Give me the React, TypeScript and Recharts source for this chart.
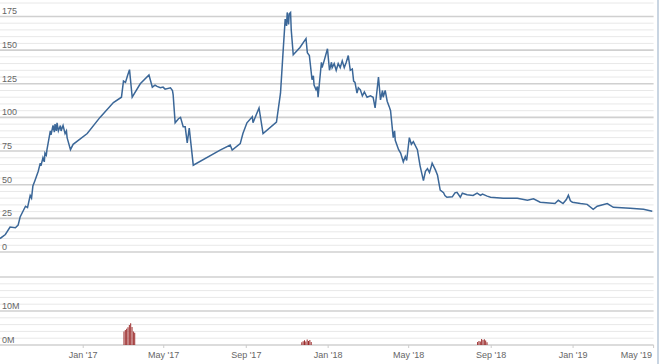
import React from 'react';
import { LineChart, Line, BarChart, Bar, XAxis, YAxis, CartesianGrid } from 'recharts';

const priceDates = [
  '2016-08-30','2016-09-07','2016-09-14','2016-09-22','2016-09-26','2016-09-29','2016-10-07','2016-10-10','2016-10-14','2016-10-16','2016-10-18','2016-10-21','2016-10-26','2016-10-29','2016-10-30',
  '2016-11-02','2016-11-04','2016-11-05','2016-11-07','2016-11-08','2016-11-13','2016-11-14','2016-11-17','2016-11-19','2016-11-20','2016-11-22','2016-11-23','2016-11-25','2016-11-28','2016-11-29',
  '2016-12-02','2016-12-05','2016-12-07','2016-12-08','2016-12-13','2016-12-17',
  '2017-01-07','2017-01-26','2017-02-15','2017-02-27','2017-03-02','2017-03-05','2017-03-08','2017-03-11','2017-03-15','2017-03-27','2017-04-09','2017-04-14','2017-04-18','2017-04-21','2017-04-26','2017-04-30',
  '2017-05-03','2017-05-11','2017-05-14','2017-05-15','2017-05-18','2017-05-23','2017-05-26','2017-05-30','2017-06-02','2017-06-05','2017-06-08','2017-06-14',
  '2017-07-24','2017-08-08','2017-08-11','2017-08-23','2017-08-27','2017-09-02','2017-09-10','2017-09-11','2017-09-20','2017-09-26','2017-10-16','2017-10-22','2017-10-26','2017-10-29','2017-10-31',
  '2017-11-01','2017-11-03','2017-11-04','2017-11-06','2017-11-07','2017-11-10','2017-11-20','2017-11-29','2017-12-01','2017-12-04','2017-12-08','2017-12-10','2017-12-11','2017-12-14','2017-12-16','2017-12-17','2017-12-22','2017-12-23','2017-12-26','2017-12-31',
  '2018-01-03','2018-01-06','2018-01-07','2018-01-10','2018-01-13','2018-01-16','2018-01-19','2018-01-22','2018-01-25','2018-01-28','2018-01-31',
  '2018-02-03','2018-02-06','2018-02-08','2018-02-10','2018-02-13','2018-02-15','2018-02-18','2018-02-21','2018-02-24','2018-02-28',
  '2018-03-05','2018-03-09','2018-03-12','2018-03-17','2018-03-20','2018-03-23','2018-03-24','2018-03-27','2018-03-30',
  '2018-04-02','2018-04-04','2018-04-08','2018-04-10','2018-04-11','2018-04-16','2018-04-19','2018-04-23','2018-04-26','2018-04-28',
  '2018-05-02','2018-05-05','2018-05-08','2018-05-14','2018-05-18','2018-05-23','2018-05-26','2018-05-29',
  '2018-06-01','2018-06-04','2018-06-05','2018-06-10','2018-06-13','2018-06-17','2018-06-22','2018-06-24','2018-06-27',
  '2018-07-05','2018-07-09','2018-07-12','2018-07-17','2018-07-20','2018-07-27',
  '2018-08-05','2018-08-11','2018-08-16','2018-08-19','2018-08-26','2018-08-31',
  '2018-09-19','2018-10-10','2018-10-25','2018-11-03','2018-11-13',
  '2018-12-05','2018-12-10','2018-12-17','2018-12-22','2018-12-25','2018-12-28','2018-12-31',
  '2019-01-12','2019-01-22','2019-01-31','2019-02-06','2019-02-21','2019-03-02','2019-03-27','2019-04-16','2019-04-29',
];

const priceValues = [
  10, 13, 18.5, 18, 20, 26, 34, 33, 42, 40, 49, 53, 60, 66, 64,
  70, 67, 73.5, 72, 76, 90, 87, 94, 89, 95, 90, 96, 90, 94, 90,
  94, 88, 90, 85, 76, 80,
  88, 100, 111, 115, 127, 126, 131, 135.5, 115, 125, 131.5, 122.5, 124, 123, 122, 122.5,
  121, 122, 120, 117, 96, 99, 100, 93, 93, 81, 92, 64.5,
  75.7, 79.5, 75.7, 80.5, 88, 96, 100.5, 96, 107, 88, 96.5, 118, 150, 173, 168,
  178, 169, 177, 178, 165, 146.5, 152, 158.5, 148, 146, 128, 131, 124, 120.5, 123, 115, 141, 137, 142, 151,
  135, 141, 137, 140, 135, 140, 137, 142, 137, 141, 146,
  135, 136, 127, 126, 118, 122, 120.5, 116, 119, 115,
  116, 115, 107, 130, 113, 120, 115, 120, 112,
  108, 105, 85, 90, 83, 76, 73.5, 67, 71, 68,
  85, 80, 82, 76, 64, 53, 60, 62,
  59, 64, 66, 60.8, 57, 46, 44, 42, 40.7,
  41, 44, 44.4, 40.7, 43.7, 42.5,
  42, 43.7, 42, 43, 41.5, 40.7,
  40, 40, 38.4, 39.5, 37,
  36, 38.4, 36, 39, 42.2, 38, 37,
  36, 35.4, 31.7, 34, 36, 33.2, 32.5, 31.7, 30.2,
];

const volumeDates = [
  '2017-03-03','2017-03-05','2017-03-07','2017-03-09','2017-03-11','2017-03-13','2017-03-15','2017-03-17','2017-03-19',
  '2017-11-23','2017-11-25','2017-11-27','2017-11-29','2017-12-01','2017-12-03','2017-12-05','2017-12-07',
  '2018-08-12','2018-08-14','2018-08-16','2018-08-18','2018-08-20','2018-08-22','2018-08-24','2018-08-26',
];
const volumeValues = [
  4.0e6, 4.4e6, 4.8e6, 5.2e6, 5.9e6, 6.4e6, 5.3e6, 4.0e6, 3.6e6,
  0.8e6, 1.1e6, 1.4e6, 1.0e6, 1.6e6, 1.2e6, 1.5e6, 0.9e6,
  0.9e6, 1.2e6, 1.0e6, 1.8e6, 1.5e6, 1.7e6, 1.3e6, 0.8e6,
];

const xTickDates = ['2017-01-01','2017-05-01','2017-09-01','2018-01-01','2018-05-01','2018-09-01','2019-01-01','2019-05-01'];
const xTickLabels = ["Jan '17","May '17","Sep '17","Jan '18","May '18","Sep '18","Jan '19","May '19"];

const priceMax = 185;
const volumeMax = 20e6;
const priceMajorTicks = [0, 25, 50, 75, 100, 125, 150, 175];
const priceMinorTicks = [5,10,15,20,30,35,40,45,55,60,65,70,80,85,90,95,105,110,115,120,130,135,140,145,155,160,165,170,185];
const volumeMajorTicks = [0, 10e6, 20e6];
const volumeMinorTicks = [2e6, 4e6, 6e6, 8e6, 12e6, 14e6, 16e6, 18e6];
const volumeLabelTicks = [0, 10e6];

const domainStartDate = '2016-08-30';
const domainEndDate = '2019-05-01';

const toT = (s: string) => Date.parse(s + 'T00:00:00Z');
const tStart = toT(domainStartDate);
const tEnd = toT(domainEndDate);
const xTickValues = xTickDates.map(toT);

const priceData = priceDates.map((d, i) => ({ t: toT(d), v: priceValues[i] }));
const volumeData = volumeDates.map((d, i) => ({ t: toT(d), vol: volumeValues[i] }));

const FONT = '"Liberation Sans", Arial, sans-serif';
const MAJOR = '#d0d0d0';
const MINOR = '#e8e8e8';

// grid line positions through the linear value->pixel mapping of the plot area
const gridGen = (vals: number[], max: number) => (props: any) => {
  const off = props.offset || {};
  const top = off.top ?? 0;
  const h = off.height ?? 0;
  return vals.map((v) => top + h * (1 - v / max));
};

const PriceTick = (props: any) => {
  const { y, payload } = props;
  return (
    <text x={2} y={y - 2} fontSize={9} fill="#666" fontFamily={FONT}>{payload.value}</text>
  );
};

const VolTick = (props: any) => {
  const { y, payload } = props;
  return (
    <text x={2} y={y - 2} fontSize={9} fill="#666" fontFamily={FONT}>{`${payload.value / 1e6}M`}</text>
  );
};

const XTick = (props: any) => {
  const { x, payload } = props;
  const idx = xTickValues.indexOf(payload.value);
  const isLast = idx === xTickValues.length - 1;
  return (
    <text x={isLast ? 652 : x} y={88} fontSize={9} fill="#666" fontFamily={FONT} textAnchor={isLast ? 'end' : 'middle'}>
      {xTickLabels[idx]}
    </text>
  );
};

export default function App() {
  return (
    <div style={{ position: 'absolute', left: 0, top: 0, width: 660, height: 364, background: '#fff', overflow: 'hidden' }}>
      <div style={{ position: 'absolute', left: 0, top: 0 }}>
        <LineChart width={660} height={256} data={priceData} margin={{ top: 3, right: 6.4, bottom: 4, left: 0 }}>
          <CartesianGrid vertical={false} stroke={MINOR} strokeWidth={1} horizontalCoordinatesGenerator={gridGen(priceMinorTicks, priceMax)} />
          <CartesianGrid vertical={false} stroke={MAJOR} strokeWidth={1.6} horizontalCoordinatesGenerator={gridGen(priceMajorTicks, priceMax)} />
          <XAxis dataKey="t" type="number" domain={[tStart, tEnd]} allowDataOverflow hide />
          <YAxis type="number" mirror domain={[0, priceMax]} ticks={priceMajorTicks} interval={0} width={30} axisLine={false} tickLine={false} tick={<PriceTick />} allowDataOverflow />
          <Line type="linear" dataKey="v" stroke="#3b6798" strokeWidth={1.5} dot={false} activeDot={false} isAnimationActive={false} />
        </LineChart>
      </div>
      <div style={{ position: 'absolute', left: 0, top: 270 }}>
        <BarChart width={660} height={94} data={volumeData} margin={{ top: 7, right: 6.4, bottom: 0, left: 0 }}>
          <CartesianGrid vertical={false} stroke={MINOR} strokeWidth={1} horizontalCoordinatesGenerator={gridGen(volumeMinorTicks, volumeMax)} />
          <CartesianGrid vertical={false} stroke={MAJOR} strokeWidth={1.6} horizontalCoordinatesGenerator={gridGen(volumeMajorTicks, volumeMax)} />
          <XAxis dataKey="t" type="number" domain={[tStart, tEnd]} allowDataOverflow ticks={xTickValues} interval={0} height={19} axisLine={false} tickLine={{ stroke: '#ccc' }} tickSize={3} tick={<XTick />} />
          <YAxis type="number" mirror domain={[0, volumeMax]} ticks={volumeLabelTicks} interval={0} width={30} axisLine={false} tickLine={false} tick={<VolTick />} allowDataOverflow />
          <Bar dataKey="vol" fill="#9b2a2a" barSize={1} isAnimationActive={false} />
        </BarChart>
      </div>
      <div style={{ position: 'absolute', left: 657, top: 0, width: 2, height: 364, background: '#c9d5e2' }} />
    </div>
  );
}
